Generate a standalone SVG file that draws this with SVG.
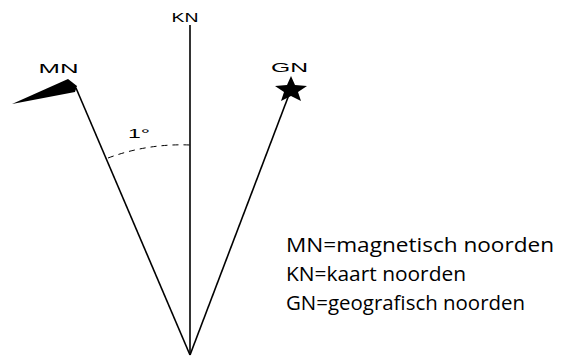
<svg xmlns="http://www.w3.org/2000/svg" width="561" height="359" viewBox="0 0 561 359">
<style>
.ln{stroke:#000;stroke-width:1.6;fill:none}
.lbl{font-family:"Liberation Sans",Arial,sans-serif;font-size:12.5px;fill:#000}
.leg{font-family:"Open Sans","Liberation Sans",sans-serif;font-size:20px;fill:#000}
</style>
<rect width="561" height="359" fill="#fff"/>
<g id="connectors">
<line class="ln" x1="190" y1="25" x2="190" y2="355"/>
<line class="ln" x1="190" y1="355" x2="76" y2="88"/>
<line class="ln" x1="190" y1="355" x2="290" y2="92"/>
<path d="M108,158 A210,210 0 0 1 190,145" stroke="#000" stroke-width="1" fill="none" stroke-dasharray="6,5"/>
</g>
<g id="KN">
<text class="lbl" x="185" y="22" text-anchor="middle" textLength="27" lengthAdjust="spacingAndGlyphs">KN</text>
</g>
<g id="MN">
<text class="lbl" x="58.5" y="73" text-anchor="middle" textLength="40" lengthAdjust="spacingAndGlyphs">MN</text>
<polygon points="12,104 68,79 77,86 75,92" fill="#000"/>
</g>
<g id="GN">
<text class="lbl" x="289.5" y="72" text-anchor="middle" textLength="37" lengthAdjust="spacingAndGlyphs">GN</text>
<polygon points="291,76 295,85 307,86 298,92 301,101 291,96 281,101 284,92 275,86 287,85" fill="#000"/>
</g>
<g id="angle">
<text class="lbl" x="128" y="138" textLength="22" lengthAdjust="spacingAndGlyphs">1°</text>
</g>
<g id="legend">
<text class="leg" x="286" y="252" textLength="268" lengthAdjust="spacingAndGlyphs">MN=magnetisch noorden</text>
<text class="leg" x="286" y="281" textLength="180" lengthAdjust="spacingAndGlyphs">KN=kaart noorden</text>
<text class="leg" x="286" y="310" textLength="239" lengthAdjust="spacingAndGlyphs">GN=geografisch noorden</text>
</g>
</svg>
